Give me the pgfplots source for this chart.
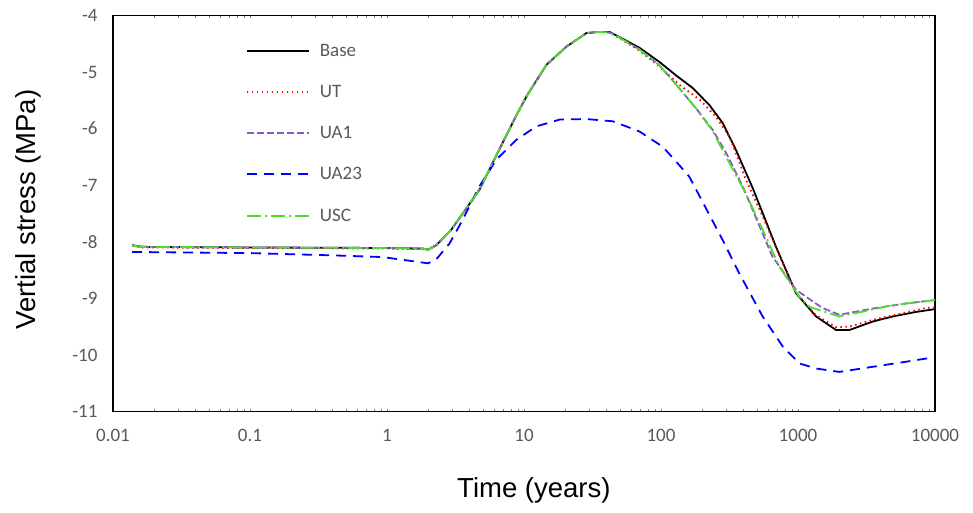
\documentclass[border=0pt]{standalone}
\usepackage{pgfplots}
\pgfplotsset{compat=1.18}
\usepackage{fontspec}
\setmainfont{Carlito}
\newfontfamily\arialf{Liberation Sans}
\definecolor{tickgray}{HTML}{595959}
\definecolor{ua1}{HTML}{8A58C4}
\definecolor{ua23}{HTML}{0000FF}
\definecolor{usc}{HTML}{4EDD2C}
\begin{document}
\begin{tikzpicture}
\useasboundingbox (-113pt,-101.5pt) rectangle (860pt,411.5pt);
\begin{axis}[
  at={(0pt,0pt)}, anchor=south west,
  scale only axis, width=822pt, height=396pt,
  xmode=log, xmin=0.01, xmax=10000,
  ymin=-11, ymax=-4,
  xtick={0.01,0.1,1,10,100,1000,10000},
  xticklabels={0.01,0.1,1,10,100,1000,10000},
  ytick={-11,-10,-9,-8,-7,-6,-5,-4},
  yticklabels={-11,-10,-9,-8,-7,-6,-5,-4},
  major tick length=0pt, minor tick num=0,
  axis line style={line width=1.2pt, black},
  tick label style={font=\fontsize{19}{22}\selectfont, text=tickgray},
  xticklabel style={yshift=-14pt},
  yticklabel style={xshift=-12pt},
  xlabel={\arialf Time (years)}, ylabel={\arialf Vertial stress (MPa)},
  label style={font=\fontsize{27.5}{32}\selectfont},
  xlabel style={at={(axis description cs:0.512,-0.199)}, anchor=center},
  ylabel style={at={(axis description cs:-0.1035,0.51)}, anchor=center, rotate=0},
  legend style={at={(0.158,0.939)}, anchor=north west, draw=none, fill=none,
    font=\fontsize{19}{22}\selectfont, row sep=23.5pt,
    legend cell align=left},
  legend image code/.code={\draw[#1] (0pt,0pt) -- (62pt,0pt); \path (70pt,0pt);},
  every axis plot/.append style={line join=round},
]
\addplot[draw=black, line width=1.8pt] coordinates {
(0.0138,-8.06) (0.0165,-8.09) (0.1,-8.10) (1,-8.11) (1.82,-8.12) (1.99,-8.14) (2.29,-8.06) (2.94,-7.79) (4.73,-7.08) (6.41,-6.43) (8.82,-5.76) (10.6,-5.40) (14.6,-4.87) (20.4,-4.55) (28.6,-4.31) (35.5,-4.29) (42,-4.29) (49.7,-4.38) (69.6,-4.57) (97.3,-4.82) (129,-5.06) (170,-5.28) (225,-5.58) (282,-5.90) (353,-6.38) (467,-7.05) (552,-7.49) (691,-8.09) (818,-8.50) (968,-8.91) (1355,-9.32) (1896,-9.56) (2371,-9.56) (3508,-9.41) (4909,-9.32) (7263,-9.24) (10000,-9.19)
};
\addlegendentry{\textcolor{tickgray}{Base}}
\addplot[draw=red, line width=1.8pt, dash pattern=on 1.5pt off 3.5pt] coordinates {
(0.0138,-8.07) (0.0165,-8.10) (0.1,-8.11) (1,-8.12) (1.82,-8.13) (1.99,-8.14) (2.29,-8.06) (2.94,-7.79) (4.73,-7.08) (6.41,-6.43) (8.82,-5.76) (10.6,-5.40) (14.6,-4.87) (20.4,-4.55) (28.6,-4.31) (35.5,-4.29) (42,-4.30) (49.7,-4.40) (69.6,-4.62) (97.3,-4.90) (137,-5.23) (192,-5.49) (252,-5.79) (316,-6.14) (418,-6.91) (552,-7.55) (691,-8.10) (818,-8.52) (968,-8.90) (1355,-9.30) (1896,-9.51) (2371,-9.50) (3508,-9.38) (6150,-9.25) (8590,-9.17) (10000,-9.16)
};
\addlegendentry{\textcolor{tickgray}{UT}}
\addplot[draw=ua1, line width=1.8pt, dash pattern=on 7pt off 3pt] coordinates {
(0.0138,-8.07) (0.0165,-8.09) (0.1,-8.10) (1,-8.11) (1.82,-8.12) (1.99,-8.14) (2.29,-8.06) (2.94,-7.79) (4.73,-7.08) (6.41,-6.43) (8.82,-5.76) (10.6,-5.40) (14.6,-4.87) (20.4,-4.55) (28.6,-4.31) (35.5,-4.29) (42,-4.30) (49.7,-4.39) (69.6,-4.60) (97.3,-4.88) (121,-5.14) (180,-5.64) (238,-6.02) (299,-6.43) (395,-7.02) (650,-8.26) (968,-8.85) (1507,-9.17) (2004,-9.29) (3508,-9.18) (6150,-9.09) (10000,-9.03)
};
\addlegendentry{\textcolor{tickgray}{UA1}}
\addplot[draw=ua23, line width=1.8pt, dash pattern=on 10pt off 7pt] coordinates {
(0.0138,-8.18) (0.1,-8.20) (0.40,-8.24) (0.929,-8.27) (1.99,-8.38) (2.29,-8.31) (2.86,-8.03) (3.57,-7.61) (4.73,-7.02) (6.27,-6.55) (8.77,-6.20) (12.3,-5.96) (18.2,-5.84) (28.4,-5.83) (44.5,-5.87) (69.6,-6.05) (103,-6.32) (132,-6.61) (161,-6.85) (282,-7.97) (373,-8.56) (552,-9.32) (773,-9.85) (1023,-10.15) (1355,-10.24) (2004,-10.30) (3508,-10.21) (6150,-10.12) (8830,-10.06)
};
\addlegendentry{\textcolor{tickgray}{UA23}}
\addplot[draw=usc, line width=1.8pt, dash pattern=on 14pt off 4pt on 2pt off 4pt] coordinates {
(0.0138,-8.07) (0.0165,-8.09) (0.1,-8.10) (1,-8.11) (1.82,-8.12) (1.99,-8.14) (2.29,-8.06) (2.94,-7.79) (4.73,-7.08) (6.41,-6.43) (8.82,-5.76) (10.6,-5.40) (14.6,-4.87) (20.4,-4.55) (28.6,-4.31) (35.5,-4.29) (42,-4.30) (49.7,-4.39) (69.6,-4.60) (97.3,-4.88) (121,-5.14) (180,-5.64) (238,-6.04) (299,-6.50) (420,-7.17) (553,-7.79) (731,-8.44) (1023,-8.97) (1211,-9.15) (2004,-9.32) (2650,-9.26) (4909,-9.12) (8590,-9.05) (10000,-9.03)
};
\addlegendentry{\textcolor{tickgray}{USC}}
\end{axis}
\end{tikzpicture}
\end{document}
